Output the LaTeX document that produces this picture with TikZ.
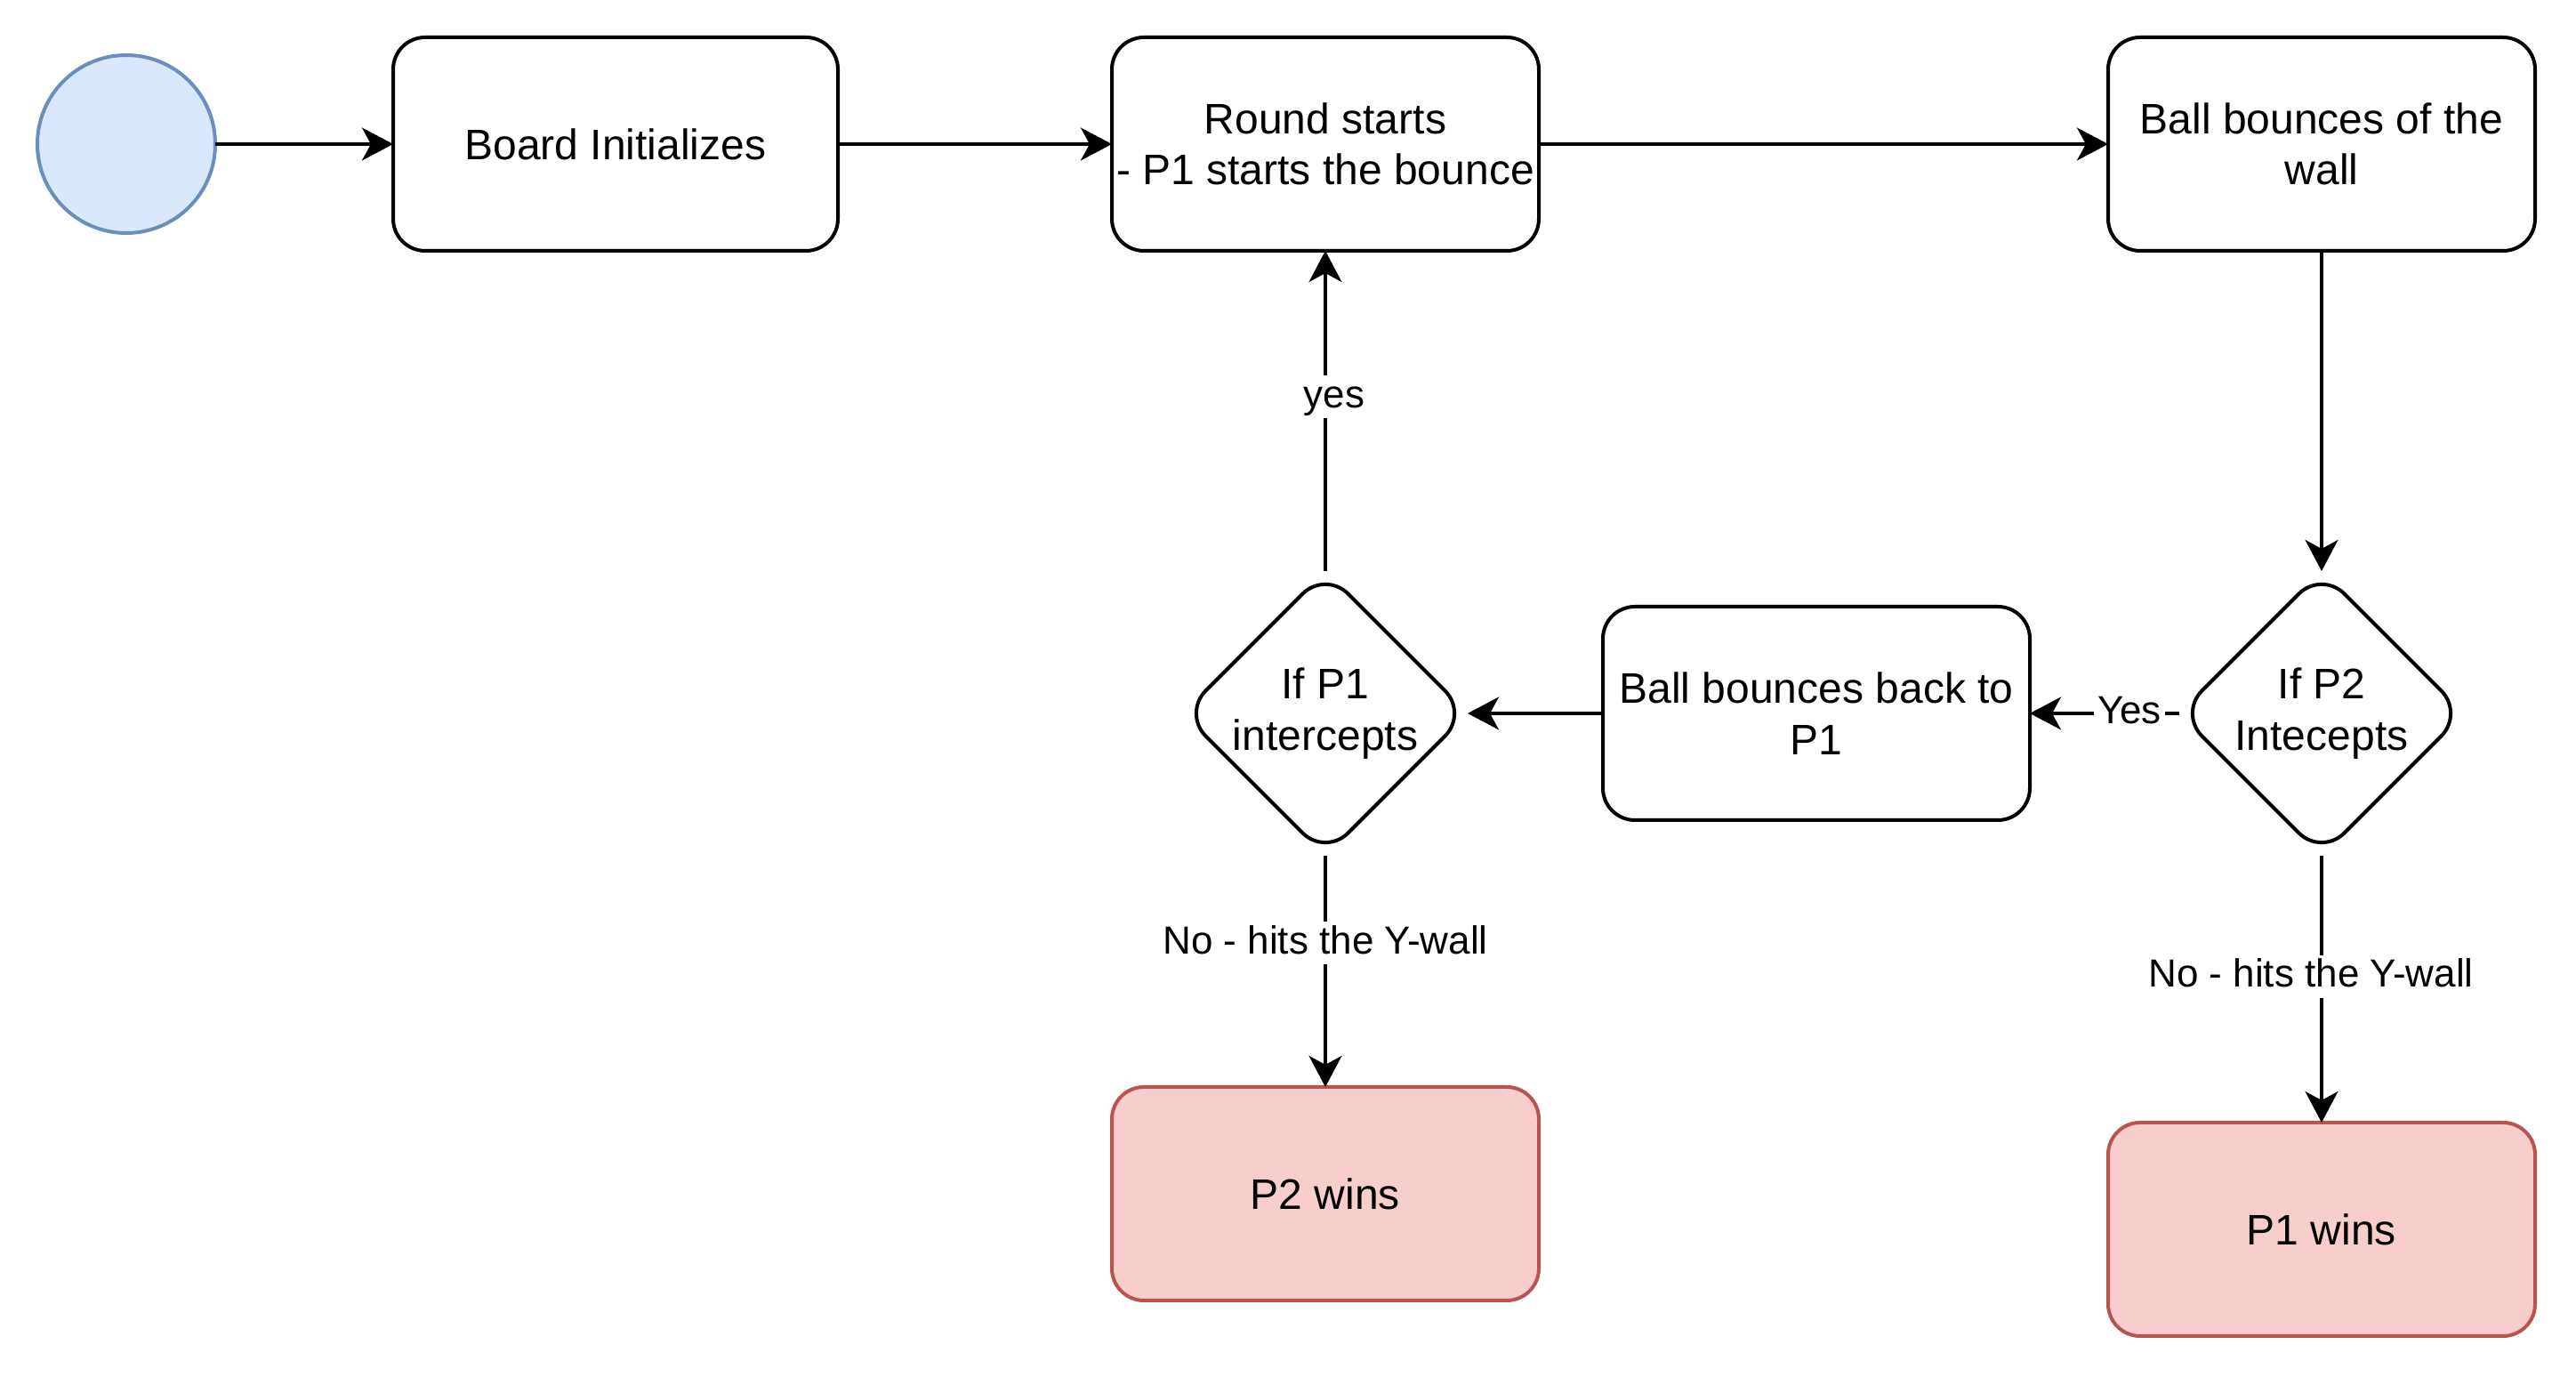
\documentclass[tikz,border=0pt]{standalone}
\usepackage{fontspec}
\setmainfont{Liberation Sans}
\usetikzlibrary{arrows.meta,shapes.geometric}
\definecolor{startfill}{HTML}{DAE8FC}
\definecolor{startline}{HTML}{6C8EBF}
\definecolor{endfill}{HTML}{F8CECC}
\definecolor{endline}{HTML}{B85450}
\begin{document}
\begin{tikzpicture}[x=1pt,y=-1pt,
  every node/.style={font=\fontsize{12}{14.4}\selectfont},
  stepbox/.style={draw=black, line width=1pt, rounded corners=9pt, minimum width=120pt, minimum height=60pt, inner sep=0pt, outer sep=0pt, align=center},
  decision/.style={draw=black, line width=1pt, diamond, rounded corners=9pt, minimum width=80pt, minimum height=80pt, inner sep=0pt, outer sep=0pt, align=center},
  endbox/.style={stepbox, draw=endline, fill=endfill},
  startnode/.style={circle, draw=startline, fill=startfill, line width=1pt, minimum size=50pt, inner sep=0pt, outer sep=0pt},
  flow/.style={line width=1pt, -{Stealth[length=8.75pt, width=9.2pt, inset=2.5pt]}},
  edgelabel/.style={fill=white, inner xsep=1pt, inner ysep=0.5pt, text height=8.5pt, text depth=2.5pt, font=\fontsize{11}{13.2}\selectfont}
]
\useasboundingbox (0,0) rectangle (724,387);

\node[startnode] (start) at (35.5,40.5) {};
\node[stepbox, minimum width=125pt] (board) at (173,40.5) {Board Initializes};
\node[stepbox] (round) at (372.5,40.5) {Round starts\\- P1 starts the bounce};
\node[stepbox] (wall) at (652.5,40.5) {Ball bounces of the\\wall};
\node[decision] (p2dec) at (652.5,200.5) {If P2\\Intecepts};
\node[stepbox] (back) at (510.5,200.5) {Ball bounces back to\\P1};
\node[decision] (p1dec) at (372.5,200.5) {If P1\\intercepts};
\node[endbox] (p2win) at (372.5,335.5) {P2 wins};
\node[endbox] (p1win) at (652.5,345.5) {P1 wins};

\draw[flow] (start) -- (board);
\draw[flow] (board) -- (round);
\draw[flow] (round) -- (wall);
\draw[flow] (wall) -- (p2dec);
\draw[flow] (p2dec) -- node[edgelabel, pos=0.333] {Yes} (back);
\draw[flow] (back) -- (p1dec);
\draw[flow] (p1dec) -- node[edgelabel, pos=0.544, xshift=2.5pt] {yes} (round);
\draw[flow] (p1dec) -- node[edgelabel, pos=0.377] {No - hits the Y-wall} (p2win);
\draw[flow] (p2dec) -- node[edgelabel, pos=0.453, xshift=-3pt] {No - hits the Y-wall} (p1win);
\end{tikzpicture}
\end{document}
